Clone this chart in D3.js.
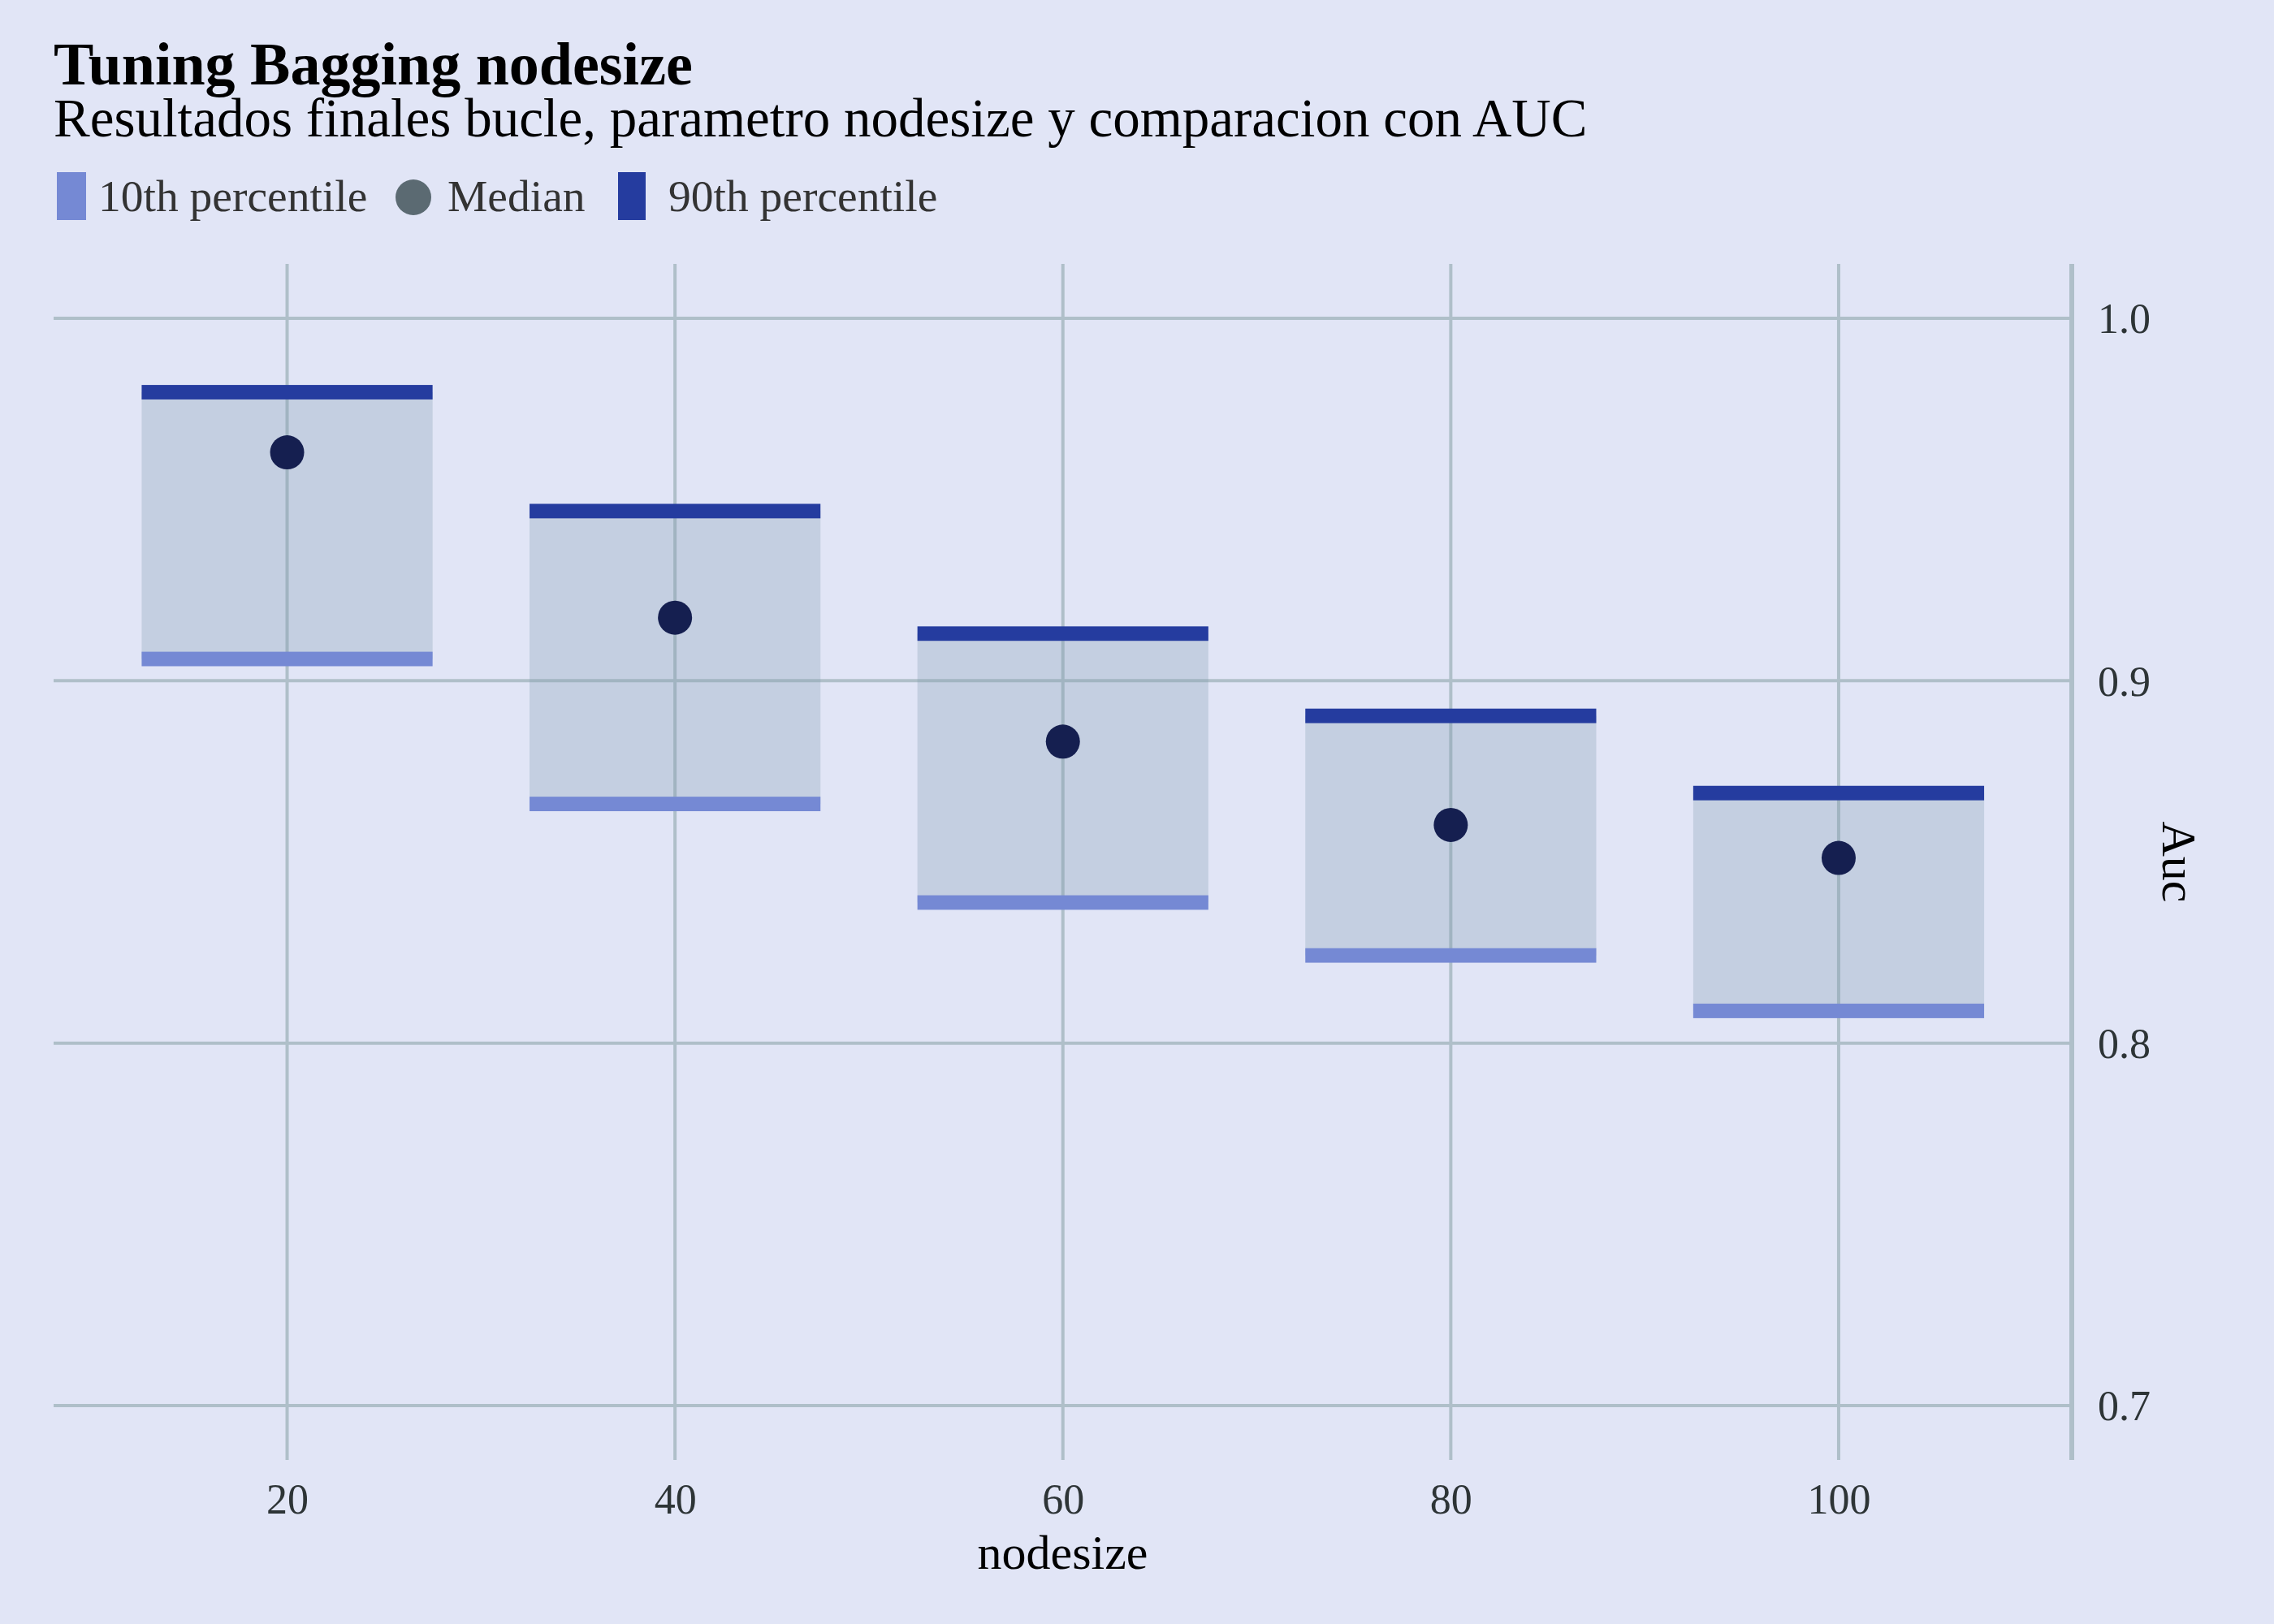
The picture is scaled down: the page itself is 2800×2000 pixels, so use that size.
<!DOCTYPE html>
<html>
<head>
<meta charset="utf-8">
<script src="https://cdn.jsdelivr.net/npm/d3@7"></script>
<style>
  html, body { margin: 0; padding: 0; background: #e1e5f6; }
  svg { display: block; }
  text { font-family: "Liberation Serif", "Times New Roman", serif; }
</style>
</head>
<body>
<svg id="chart" width="2800" height="2000"></svg>
<script>
// ---- data ----
const nodesize = [20, 40, 60, 80, 100];
const p10 = [0.906, 0.866, 0.8388, 0.8242, 0.8089];
const median = [0.963, 0.9174, 0.8832, 0.8602, 0.8511];
const p90 = [0.9796, 0.9468, 0.913, 0.8903, 0.869];
const xTicks = [20, 40, 60, 80, 100];
const yTicks = [0.7, 0.8, 0.9, 1.0];
const legendLabels = ["10th percentile", "Median", "90th percentile"];
const boxHalfWidth = 7.5;
const barHalfHeight = 0.002;

const data = nodesize.map((n, i) => ({ n, lo: p10[i], med: median[i], hi: p90[i] }));

// ---- layout ----
const W = 2800, H = 2000;
const panel = { left: 66, right: 2551, top: 325, bottom: 1798 };
const colors = {
  bg: "#e1e5f6", grid: "#afbfc9", box: "rgb(128,156,176)", lo: "#7589d4",
  hi: "#253c9f", med: "#151f50", medLegend: "#5b6a72", tick: "#2d3436"
};

const svg = d3.select("#chart");
svg.append("rect").attr("width", W).attr("height", H).attr("fill", colors.bg);

const x = d3.scaleLinear().domain([7.75, 112.25]).range([61, 2556.5]);
const y = d3.scaleLinear().domain([0.685, 1.015]).range([panel.bottom, panel.top]);

// ---- grid ----
const g = svg.append("g");
g.selectAll("line.vgrid").data(xTicks).enter().append("line")
  .attr("x1", d => x(d)).attr("x2", d => x(d))
  .attr("y1", panel.top).attr("y2", panel.bottom)
  .attr("stroke", colors.grid).attr("stroke-width", 4);
g.selectAll("line.hgrid").data(yTicks).enter().append("line")
  .attr("x1", panel.left).attr("x2", panel.right)
  .attr("y1", d => y(d)).attr("y2", d => y(d))
  .attr("stroke", colors.grid).attr("stroke-width", 4);

// right axis line
svg.append("line")
  .attr("x1", panel.right).attr("x2", panel.right)
  .attr("y1", panel.top).attr("y2", panel.bottom)
  .attr("stroke", colors.grid).attr("stroke-width", 6);

// ---- axes (labels via d3 axes) ----
const xAxis = d3.axisBottom(x).tickValues(xTicks).tickSize(0).tickPadding(0).tickFormat(d3.format("d"));
const xg = svg.append("g").attr("transform", `translate(0, 1864)`).call(xAxis);
xg.select(".domain").remove();
xg.selectAll("text").attr("font-size", 52).attr("fill", colors.tick)
  .attr("dy", 0).attr("y", 0).style("font-family", '"Liberation Serif", serif');

const yAxis = d3.axisRight(y).tickValues(yTicks).tickSize(0).tickPadding(0).tickFormat(d3.format(".1f"));
const yg = svg.append("g").attr("transform", `translate(2583, 0)`).call(yAxis);
yg.select(".domain").remove();
yg.selectAll("text").attr("font-size", 52).attr("fill", colors.tick)
  .attr("x", 0).attr("dy", "0.34em").attr("text-anchor", "start")
  .style("font-family", '"Liberation Serif", serif');

// axis titles
svg.append("text").attr("x", (panel.left + panel.right) / 2).attr("y", 1932)
  .attr("text-anchor", "middle").attr("font-size", 60).attr("fill", "#000").text("nodesize");
svg.append("text").attr("transform", `translate(2663, ${(panel.top + panel.bottom) / 2}) rotate(90)`)
  .attr("text-anchor", "middle").attr("font-size", 60).attr("fill", "#000").text("Auc");

// ---- marks ----
const m = svg.append("g");
m.selectAll("rect.box").data(data).enter().append("rect")
  .attr("x", d => x(d.n - boxHalfWidth)).attr("width", d => x(d.n + boxHalfWidth) - x(d.n - boxHalfWidth))
  .attr("y", d => y(d.hi)).attr("height", d => y(d.lo) - y(d.hi))
  .attr("fill", colors.box).attr("fill-opacity", 0.3);
m.selectAll("rect.lo").data(data).enter().append("rect")
  .attr("x", d => x(d.n - boxHalfWidth)).attr("width", d => x(d.n + boxHalfWidth) - x(d.n - boxHalfWidth))
  .attr("y", d => y(d.lo + barHalfHeight)).attr("height", d => y(d.lo - barHalfHeight) - y(d.lo + barHalfHeight))
  .attr("fill", colors.lo);
m.selectAll("rect.hi").data(data).enter().append("rect")
  .attr("x", d => x(d.n - boxHalfWidth)).attr("width", d => x(d.n + boxHalfWidth) - x(d.n - boxHalfWidth))
  .attr("y", d => y(d.hi + barHalfHeight)).attr("height", d => y(d.hi - barHalfHeight) - y(d.hi + barHalfHeight))
  .attr("fill", colors.hi);
m.selectAll("circle.med").data(data).enter().append("circle")
  .attr("cx", d => x(d.n)).attr("cy", d => y(d.med)).attr("r", 21)
  .attr("fill", colors.med);

// ---- titles ----
svg.append("text").attr("x", 66).attr("y", 104).attr("font-size", 74).attr("font-weight", "bold")
  .attr("fill", "#000").text("Tuning Bagging nodesize");
svg.append("text").attr("x", 66).attr("y", 168).attr("font-size", 67)
  .attr("fill", "#000").text("Resultados finales bucle, parametro nodesize y comparacion con AUC");

// ---- legend ----
const lg = svg.append("g");
lg.append("rect").attr("x", 70).attr("y", 212).attr("width", 36).attr("height", 59).attr("fill", colors.lo);
lg.append("text").attr("x", 121).attr("y", 260).attr("font-size", 55.5).attr("fill", "#333").text(legendLabels[0]);
lg.append("circle").attr("cx", 509).attr("cy", 243).attr("r", 22).attr("fill", colors.medLegend);
lg.append("text").attr("x", 551).attr("y", 260).attr("font-size", 55.5).attr("fill", "#333").text(legendLabels[1]);
lg.append("rect").attr("x", 761).attr("y", 212).attr("width", 34).attr("height", 59).attr("fill", colors.hi);
lg.append("text").attr("x", 823).attr("y", 260).attr("font-size", 55.5).attr("fill", "#333").text(legendLabels[2]);
</script>
</body>
</html>
